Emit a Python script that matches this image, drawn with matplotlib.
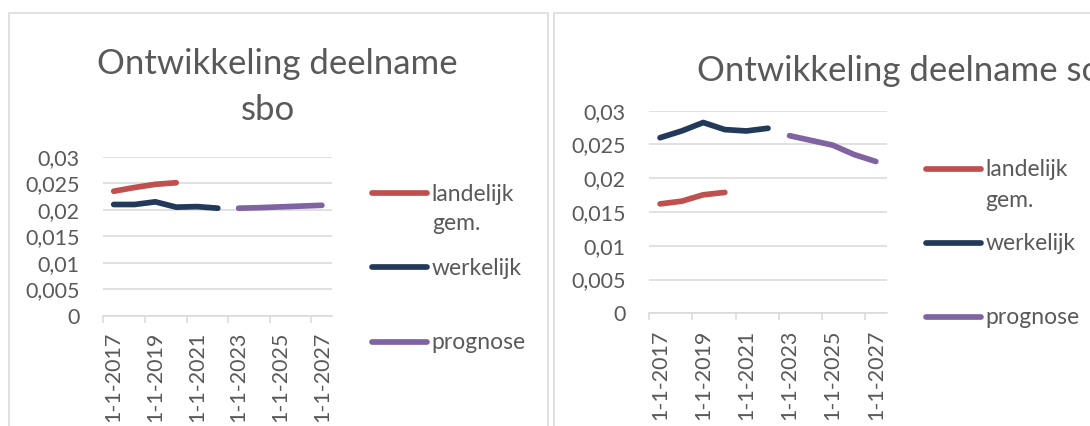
import numpy as np
import matplotlib
matplotlib.use("Agg")
import matplotlib.pyplot as plt
from matplotlib.lines import Line2D
from matplotlib.patches import Rectangle
from matplotlib.ticker import FuncFormatter, FixedLocator

plt.rcParams["font.family"] = ["Lato", "DejaVu Sans"]

W, H = 1090, 426
nan = np.nan

# categories: 1-1-2017 .. 1-1-2027, one per year
years = list(range(2017, 2028))
tick_labels = [f"1-1-{y}" for y in years]

series_names = ["landelijk\ngem.", "werkelijk", "prognose"]
series_colors = ["#C0504D", "#22395A", "#8064A2"]

# sbo (left chart)
sbo_landelijk = [0.0235, 0.0242, 0.0248, 0.0251, nan, nan, nan, nan, nan, nan, nan]
sbo_werkelijk = [0.0210, 0.0210, 0.0215, 0.0205, 0.0206, 0.0203, nan, nan, nan, nan, nan]
sbo_prognose = [nan, nan, nan, nan, nan, nan, 0.0203, 0.0204, 0.02055, 0.0207, 0.02085]

# so (right chart)
so_landelijk = [0.0162, 0.0166, 0.01755, 0.0179, nan, nan, nan, nan, nan, nan, nan]
so_werkelijk = [0.0260, 0.0270, 0.02825, 0.0272, 0.0270, 0.0274, nan, nan, nan, nan, nan]
so_prognose = [nan, nan, nan, nan, nan, nan, 0.0263, 0.0256, 0.0249, 0.0235, 0.02248]

GRID = "#D9D9D9"
TXT = "#595959"


def fx(x):
    return x / W


def fy(y):
    return 1 - y / H


def px_rect(x0, y0, x1, y1):
    # pixel box (top-left origin) -> figure fraction rect
    return [fx(x0), fy(y1), (x1 - x0) / W, (y1 - y0) / H]


def style_axes(ax):
    ax.set_xlim(-0.5, len(years) - 0.5)
    ax.set_ylim(0, 0.03)
    ax.set_yticks(np.arange(0, 0.0301, 0.005))
    ax.yaxis.set_major_formatter(FuncFormatter(lambda v, p: f"{v:g}".replace(".", ",")))
    ax.set_xticks(range(0, len(years), 2))
    ax.set_xticklabels(tick_labels[::2], rotation=90, va="top", ha="center")
    ax.xaxis.set_minor_locator(FixedLocator(np.arange(-0.5, len(years) - 1, 2)))
    ax.tick_params(axis="x", which="major", length=0, pad=11.5, labelsize=15.5, labelcolor=TXT)
    ax.tick_params(axis="x", which="minor", length=5, width=1.1, color=GRID)
    ax.tick_params(axis="y", length=0, pad=17, labelsize=15.5, labelcolor=TXT)
    for s in ["left", "top", "right"]:
        ax.spines[s].set_visible(False)
    ax.spines["bottom"].set_color(GRID)
    ax.spines["bottom"].set_linewidth(1.1)
    ax.yaxis.grid(True, color=GRID, lw=1.1)
    ax.set_axisbelow(True)


def draw_series(ax, values):
    x = np.arange(len(years))
    for vals, color in zip(values, series_colors):
        ax.plot(x, vals, color=color, lw=4.1, solid_capstyle="round",
                solid_joinstyle="round")


def draw_legend(fig, x0, x1, ys, step):
    # legend key aligned with the first line of its (wrapped) label
    for name, color, y in zip(series_names, series_colors, ys):
        fig.add_artist(Line2D([fx(x0), fx(x1)], [fy(y), fy(y)], color=color, lw=4.1,
                              solid_capstyle="round", transform=fig.transFigure))
        for i, part in enumerate(name.split("\n")):
            fig.text(fx(x1 + 4.5), fy(y + 7.5 + i * step), part, fontsize=16.5, color=TXT,
                     ha="left", va="baseline")


fig = plt.figure(figsize=(W / 100, H / 100), dpi=100)
fig.patch.set_facecolor("white")

# chart frames
fig.add_artist(Rectangle((fx(9.3), -0.1), fx(548.3 - 9.3), fy(12.7) + 0.1, fill=False,
                         ec=GRID, lw=1.1, transform=fig.transFigure))
fig.add_artist(Rectangle((fx(554.3), -0.1), 0.6, fy(12.7) + 0.1, fill=False,
                         ec=GRID, lw=1.1, transform=fig.transFigure))

# left: sbo
ax1 = fig.add_axes(px_rect(103.3, 156.7, 332.3, 316.0))
draw_series(ax1, [sbo_landelijk, sbo_werkelijk, sbo_prognose])
style_axes(ax1)
fig.text(fx(277), fy(74), "Ontwikkeling deelname", fontsize=25, color=TXT,
         ha="center", va="baseline")
fig.text(fx(268), fy(120), "sbo", fontsize=25, color=TXT, ha="center", va="baseline")
draw_legend(fig, 371.7, 427.3, [193.3, 267.3, 341.7], 29)

# right: so
ax2 = fig.add_axes(px_rect(649.3, 110.7, 886.6, 313.3))
draw_series(ax2, [so_landelijk, so_werkelijk, so_prognose])
style_axes(ax2)
fig.text(fx(696.7), fy(81), "Ontwikkeling deelname so", fontsize=25, color=TXT,
         ha="left", va="baseline")
draw_legend(fig, 926, 980.7, [169, 242.7, 316.7], 30)

fig.savefig("out.png", dpi=100, facecolor="white")
